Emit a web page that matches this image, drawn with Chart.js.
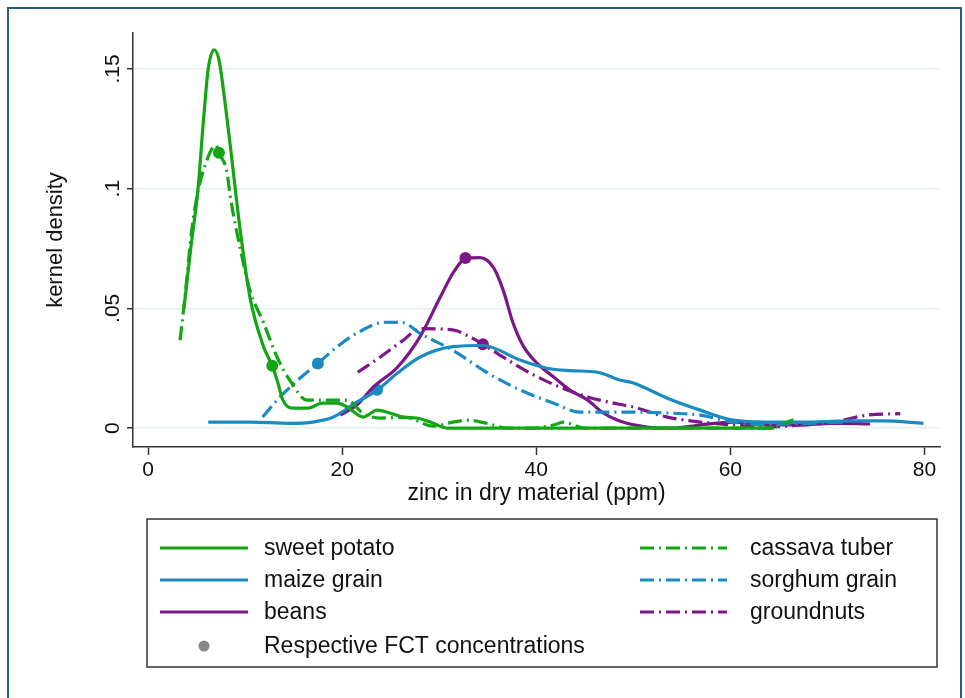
<!DOCTYPE html>
<html>
  <head>
    <meta charset="UTF-8" />
    <title>Zinc kernel density</title>
    <style>
      html, body { margin: 0; padding: 0; background: #fff; }
      #wrap { width: 965px; height: 698px; }
    </style>
  </head>
  <body>
    <div id="wrap"><canvas id="myCanvas"></canvas></div>
    <script src="https://cdn.jsdelivr.net/npm/chart.js@4/dist/chart.umd.min.js"></script>
    <script>
      // values
      const xTicks = [0, 20, 40, 60, 80];
      const yTicks = [0, 0.05, 0.1, 0.15];
      const yTickLabels = ["0", ".05", ".1", ".15"];

      const sweetPotatoX = [3.7, 4.4, 5.15, 5.7, 6.2, 6.8, 7.3, 7.9, 8.5, 9.5, 10.5, 11.9, 12.8, 13.3, 13.9, 14.9, 16.4, 18.0, 19.5, 20.5, 22.2, 23.6, 24.9, 26.3, 27.7, 29.1, 30.8, 45, 64.5];
      const sweetPotatoY = [0.050, 0.075, 0.100, 0.128, 0.150, 0.158, 0.154, 0.137, 0.117, 0.0825, 0.0546, 0.034, 0.026, 0.020, 0.0117, 0.0083, 0.0083, 0.0104, 0.0104, 0.0088, 0.0046, 0.0075, 0.0063, 0.0046, 0.0042, 0.0025, 0, 0, 0];

      const cassavaX = [3.3, 3.8, 4.5, 5.15, 5.9, 6.6, 7.0, 7.3, 8.1, 8.5, 9.5, 10.5, 11.9, 13.3, 14.6, 16.4, 18.5, 20.5, 22.2, 23.9, 26.5, 29.4, 31.4, 32.9, 34.9, 37.0, 39.4, 41.8, 42.8, 45, 64, 66.5];
      const cassavaY = [0.0367, 0.0546, 0.0825, 0.099, 0.110, 0.1167, 0.118, 0.115, 0.1075, 0.096, 0.075, 0.0575, 0.044, 0.0296, 0.020, 0.0117, 0.0117, 0.0117, 0.006, 0.0042, 0.0045, 0.0008, 0.0025, 0.0033, 0.002, 0, 0, 0.0013, 0.0025, 0, 0, 0.0035];

      const maizeX = [6.2, 10.5, 14.6, 17.0, 19.1, 21.5, 23.6, 25.7, 28.0, 31.4, 34.5, 38.4, 41.1, 43.5, 46.3, 48.7, 50.0, 53.5, 56.9, 60.3, 63.8, 67.2, 72.4, 75.8, 79.9];
      const maizeY = [0.0025, 0.0025, 0.002, 0.0025, 0.0046, 0.0108, 0.0158, 0.023, 0.0296, 0.034, 0.0345, 0.0283, 0.025, 0.024, 0.0233, 0.020, 0.0188, 0.0125, 0.0075, 0.0033, 0.0025, 0.0025, 0.003, 0.003, 0.002];

      const sorghumX = [11.8, 13.6, 15.7, 17.5, 19.5, 21.5, 24.4, 26.3, 28.0, 31.4, 35.0, 38.4, 41.8, 44.5, 48.7, 53.5, 56.9, 60.3, 63.8, 68, 72];
      const sorghumY = [0.0046, 0.013, 0.021, 0.027, 0.034, 0.0396, 0.0442, 0.044, 0.0396, 0.0325, 0.023, 0.0158, 0.0104, 0.0067, 0.0067, 0.0063, 0.0054, 0.0025, 0.0015, 0.002, 0.0025];

      const beansX = [19.8, 21.5, 23.2, 25.7, 28.0, 30.1, 31.4, 32.7, 34.2, 35.6, 36.6, 37.6, 38.7, 40.1, 41.8, 43.5, 45.3, 46.9, 48.4, 50.5, 52.5, 54.0, 56.9, 60.3, 63.8, 67.2, 70.6, 74.4];
      const beansY = [0.0054, 0.0096, 0.0171, 0.0254, 0.038, 0.0546, 0.0646, 0.0708, 0.0712, 0.067, 0.0575, 0.044, 0.034, 0.027, 0.0213, 0.0158, 0.0117, 0.0063, 0.0033, 0.001, 0, 0, 0.0013, 0.0025, 0.0013, 0.0013, 0.002, 0.0017];

      const groundnutsX = [21.6, 23.9, 26.3, 28.0, 31.4, 33.2, 34.5, 36.6, 39.4, 42.5, 45.3, 48.0, 50.0, 53.5, 56.9, 60.3, 63.8, 67.2, 70.6, 74.1, 77.5];
      const groundnutsY = [0.0233, 0.0296, 0.0367, 0.0415, 0.041, 0.038, 0.035, 0.0296, 0.0229, 0.017, 0.013, 0.0104, 0.0088, 0.0046, 0.0025, 0.0013, 0.0004, 0.0013, 0.0025, 0.0054, 0.006];

      // FCT concentrations: sweet potato, cassava, maize, sorghum, beans, groundnuts
      const fctX = [12.8, 7.3, 23.6, 17.5, 32.7, 34.5];
      const fctY = [0.026, 0.115, 0.016, 0.027, 0.071, 0.035];

      const GREEN = "#14a514";
      const BLUE = "#1a8bc2";
      const PURPLE = "#7c1787";
      const fctColors = [GREEN, GREEN, BLUE, BLUE, PURPLE, PURPLE];
      const DASHDOT = [14, 5, 2, 5];

      function pts(xs, ys) {
        return xs.map((x, i) => ({ x: x, y: ys[i] }));
      }

      function curve(label, xs, ys, color, dash) {
        return {
          label: label,
          data: pts(xs, ys),
          borderColor: color,
          backgroundColor: color,
          borderWidth: 3.2,
          borderDash: dash || [],
          pointRadius: 0,
          cubicInterpolationMode: "monotone",
          fill: false
        };
      }

      const FONT = "'Liberation Sans', Arial, Helvetica, sans-serif";

      // white page with the blue frame round it
      const framePlugin = {
        id: "frame",
        beforeDraw(chart) {
          const ctx = chart.ctx;
          ctx.save();
          ctx.fillStyle = "#fff";
          ctx.fillRect(0, 0, chart.width, chart.height);
          ctx.strokeStyle = "#2f5b8e";
          ctx.lineWidth = 2;
          ctx.strokeRect(8, 8, 953, 720);
          ctx.restore();
        }
      };

      // y tick labels are turned on their side
      const yLabelPlugin = {
        id: "yLabels",
        afterDraw(chart) {
          const ctx = chart.ctx;
          const y = chart.scales.y;
          ctx.save();
          ctx.fillStyle = "#111";
          ctx.font = "21px " + FONT;
          ctx.textAlign = "center";
          ctx.textBaseline = "middle";
          yTicks.forEach((v, i) => {
            ctx.save();
            ctx.translate(113, y.getPixelForValue(v));
            ctx.rotate(-Math.PI / 2);
            ctx.fillText(yTickLabels[i], 0, 0);
            ctx.restore();
          });
          ctx.restore();
        }
      };

      // two-column legend in a box below the plot
      const legendPlugin = {
        id: "boxLegend",
        afterDraw(chart) {
          const ctx = chart.ctx;
          const ds = chart.data.datasets;
          ctx.save();
          ctx.strokeStyle = "#333";
          ctx.lineWidth = 1.5;
          ctx.strokeRect(147, 519, 790, 148);
          ctx.font = "23px " + FONT;
          ctx.fillStyle = "#111";
          ctx.textBaseline = "middle";
          const rows = [548, 580, 612];
          const cols = [[0, 2, 4], [1, 3, 5]];
          const lineX = [[160, 248], [640, 727]];
          const textX = [264, 750];
          cols.forEach((col, c) => {
            col.forEach((di, r) => {
              const d = ds[di];
              ctx.save();
              ctx.strokeStyle = d.borderColor;
              ctx.lineWidth = 3.2;
              ctx.setLineDash(d.borderDash);
              ctx.beginPath();
              ctx.moveTo(lineX[c][0], rows[r]);
              ctx.lineTo(lineX[c][1], rows[r]);
              ctx.stroke();
              ctx.restore();
              ctx.fillText(d.label, textX[c], rows[r] + 1);
            });
          });
          ctx.fillStyle = "#888";
          ctx.beginPath();
          ctx.arc(204, 646, 5.5, 0, Math.PI * 2);
          ctx.fill();
          ctx.fillStyle = "#111";
          ctx.fillText(ds[6].label, 264, 647);
          ctx.restore();
        }
      };

      const ctx = document.getElementById("myCanvas").getContext("2d");
      const myChart = new Chart(ctx, {
        type: "line",
        data: {
          datasets: [
            curve("sweet potato", sweetPotatoX, sweetPotatoY, GREEN),
            curve("cassava tuber", cassavaX, cassavaY, GREEN, DASHDOT),
            curve("maize grain", maizeX, maizeY, BLUE),
            curve("sorghum grain", sorghumX, sorghumY, BLUE, DASHDOT),
            curve("beans", beansX, beansY, PURPLE),
            curve("groundnuts", groundnutsX, groundnutsY, PURPLE, DASHDOT),
            {
              label: "Respective FCT concentrations",
              data: pts(fctX, fctY),
              showLine: false,
              pointRadius: 6,
              pointBackgroundColor: fctColors,
              pointBorderColor: fctColors,
              borderWidth: 0
            }
          ]
        },
        options: {
          responsive: true,
          maintainAspectRatio: false,
          animation: false,
          layout: { padding: { left: 0, top: 33, right: 25, bottom: 191 } },
          plugins: {
            legend: { display: false },
            tooltip: { enabled: false }
          },
          scales: {
            x: {
              type: "linear",
              min: -1.55,
              max: 81.6,
              afterBuildTicks: s => { s.ticks = xTicks.map(v => ({ value: v })); },
              afterFit: s => { s.height = 60; },
              grid: { drawOnChartArea: false, tickLength: 8, tickColor: "#333", tickWidth: 1.5 },
              border: { color: "#333", width: 1.5 },
              ticks: { color: "#111", font: { family: FONT, size: 21 }, padding: 3, maxRotation: 0 },
              title: { display: true, text: "zinc in dry material (ppm)", color: "#111", font: { family: FONT, size: 23 }, padding: { top: 0, bottom: 0 } }
            },
            y: {
              type: "linear",
              min: -0.0079,
              max: 0.165,
              afterBuildTicks: s => { s.ticks = yTicks.map(v => ({ value: v })); },
              afterFit: s => { s.width = 133; },
              grid: { color: "#e3eef2", lineWidth: 1.5, tickLength: 6, tickColor: "#333", tickWidth: 1.5 },
              border: { color: "#333", width: 1.5 },
              ticks: { display: false },
              title: { display: true, text: "kernel density", color: "#111", font: { family: FONT, size: 22 }, padding: { top: 43, bottom: 0 } }
            }
          }
        },
        plugins: [framePlugin, yLabelPlugin, legendPlugin]
      });
    </script>
  </body>
</html>
